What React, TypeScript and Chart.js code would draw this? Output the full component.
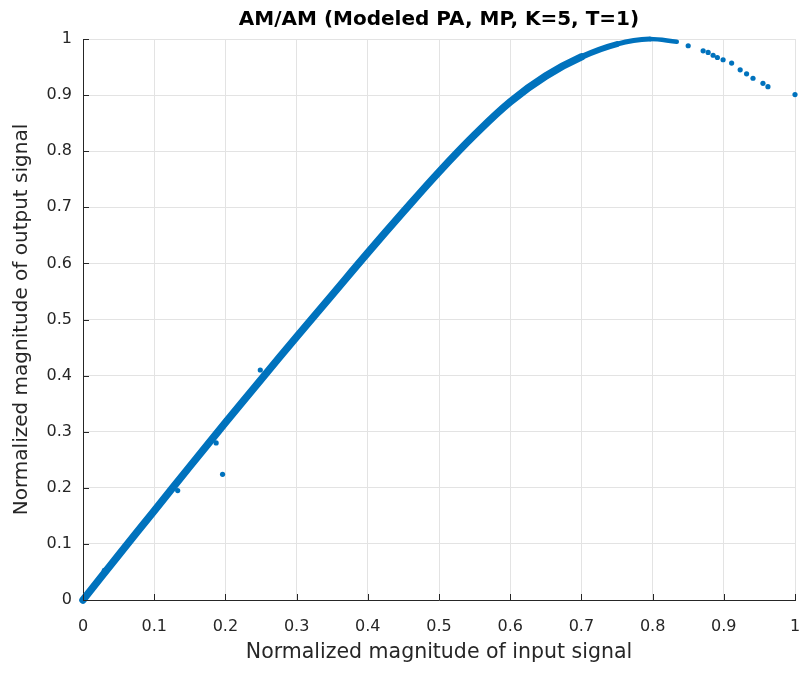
import React, { useEffect, useRef } from "react";
import { Chart, registerables } from "chart.js";

Chart.register(...registerables);

// Main dense AM/AM curve
const curveX = [0, 0.05, 0.1, 0.15, 0.2, 0.25, 0.3, 0.35, 0.4, 0.45, 0.5, 0.55, 0.6, 0.65, 0.7, 0.75, 0.796, 0.834];
const curveY = [0, 0.08, 0.159, 0.238, 0.316, 0.393, 0.469, 0.544, 0.619, 0.692, 0.763, 0.829, 0.888, 0.934, 0.968, 0.991, 1.0, 0.995];

// Sparse samples beyond the peak
const tailX = [0.85, 0.871, 0.878, 0.885, 0.891, 0.899, 0.911, 0.923, 0.932, 0.941, 0.955, 0.962, 1.0];
const tailY = [0.988, 0.979, 0.976, 0.971, 0.967, 0.963, 0.957, 0.945, 0.938, 0.93, 0.921, 0.915, 0.901];

// Stray samples off the main curve
const strayX = [0.249, 0.196, 0.03, 0.082, 0.133, 0.187, 0.202];
const strayY = [0.41, 0.224, 0.053, 0.132, 0.195, 0.28, 0.321];

const tickValues = [0, 0.1, 0.2, 0.3, 0.4, 0.5, 0.6, 0.7, 0.8, 0.9, 1];

const TITLE = "AM/AM (Modeled PA, MP, K=5, T=1)";
const X_LABEL = "Normalized magnitude of input signal";
const Y_LABEL = "Normalized magnitude of output signal";

const BLUE = "#0072BD";
const AXIS = "#262626";
const FONT = "'DejaVu Sans', 'Liberation Sans', Arial, sans-serif";

const fmt = (v: number) => String(Number(Number(v).toFixed(1)));

const inwardTicks = {
  id: "inwardTicks",
  afterDatasetsDraw(chart: any) {
    const { ctx, chartArea, scales } = chart;
    ctx.save();
    ctx.strokeStyle = AXIS;
    ctx.lineWidth = 1;
    for (const v of tickValues) {
      const x = Math.round(scales.x.getPixelForValue(v)) + 0.5;
      ctx.beginPath();
      ctx.moveTo(x, chartArea.bottom);
      ctx.lineTo(x, chartArea.bottom - 6);
      ctx.stroke();
      const y = Math.round(scales.y.getPixelForValue(v)) + 0.5;
      ctx.beginPath();
      ctx.moveTo(chartArea.left, y);
      ctx.lineTo(chartArea.left + 6, y);
      ctx.stroke();
    }
    ctx.restore();
  },
};

const segWidth = (c: any) => {
  const x = c.p0.parsed.x;
  if (x >= 0.796) return 4.5;
  if (x >= 0.75) return 5;
  if (x >= 0.7) return 6;
  return 7.5;
};

export default function App() {
  const ref = useRef<HTMLCanvasElement | null>(null);

  useEffect(() => {
    if (!ref.current) return;
    const pts = (xs: number[], ys: number[]) => xs.map((x, i) => ({ x, y: ys[i] }));
    const chart = new Chart(ref.current, {
      type: "scatter",
      data: {
        datasets: [
          {
            data: pts(curveX, curveY),
            showLine: true,
            borderColor: BLUE,
            backgroundColor: BLUE,
            borderWidth: 7.5,
            pointRadius: 0,
            tension: 0.4,
            borderCapStyle: "round",
            borderJoinStyle: "round",
            clip: false,
            segment: { borderWidth: segWidth },
          } as any,
          {
            data: pts(tailX, tailY),
            showLine: false,
            pointRadius: 2.6,
            pointBorderWidth: 0,
            backgroundColor: BLUE,
            borderColor: BLUE,
            clip: false,
          } as any,
          {
            data: pts(strayX, strayY),
            showLine: false,
            pointRadius: 2.6,
            pointBorderWidth: 0,
            backgroundColor: BLUE,
            borderColor: BLUE,
            clip: false,
          } as any,
        ],
      },
      options: {
        animation: false,
        responsive: true,
        maintainAspectRatio: false,
        layout: { padding: { left: 0, right: 8, top: 0, bottom: 0 } },
        plugins: {
          legend: { display: false },
          tooltip: { enabled: false },
          title: {
            display: true,
            fullSize: false,
            text: TITLE,
            color: "#000",
            font: { family: FONT, size: 20, weight: "bold", lineHeight: 1.2 },
            padding: { top: 8, bottom: 39 - 8 - 24 },
          },
        },
        scales: {
          x: {
            type: "linear",
            min: 0,
            max: 1,
            afterBuildTicks: (s: any) => {
              s.ticks = tickValues.map((v) => ({ value: v }));
            },
            afterFit: (s: any) => {
              s.height = 75;
              s.paddingLeft = 0;
              s.paddingRight = 0;
            },
            grid: { color: "#e3e3e3", lineWidth: 1, drawTicks: false },
            border: { display: true, color: AXIS, width: 1 },
            ticks: {
              color: AXIS,
              font: { family: FONT, size: 16 },
              padding: 17,
              maxRotation: 0,
              autoSkip: false,
              callback: (v: any) => fmt(v),
            },
            title: {
              display: true,
              text: X_LABEL,
              color: AXIS,
              font: { family: FONT, size: 20.5 },
              padding: { top: 0, bottom: 10 },
            },
          },
          y: {
            type: "linear",
            min: 0,
            max: 1,
            afterBuildTicks: (s: any) => {
              s.ticks = tickValues.map((v) => ({ value: v }));
            },
            afterFit: (s: any) => {
              s.width = 83;
              s.paddingTop = 0;
              s.paddingBottom = 0;
            },
            grid: { color: "#e3e3e3", lineWidth: 1, drawTicks: false },
            border: { display: true, color: AXIS, width: 1 },
            ticks: {
              color: AXIS,
              font: { family: FONT, size: 16 },
              padding: 11,
              autoSkip: false,
              callback: (v: any) => fmt(v),
            },
            title: {
              display: true,
              text: Y_LABEL,
              color: AXIS,
              font: { family: FONT, size: 20 },
              padding: { top: 10, bottom: 0 },
            },
          },
        },
      } as any,
      plugins: [inwardTicks],
    });
    return () => chart.destroy();
  }, []);

  return (
    <div style={{ position: "absolute", left: 0, top: 0, width: 803, height: 675, background: "#fff" }}>
      <canvas ref={ref} />
    </div>
  );
}
